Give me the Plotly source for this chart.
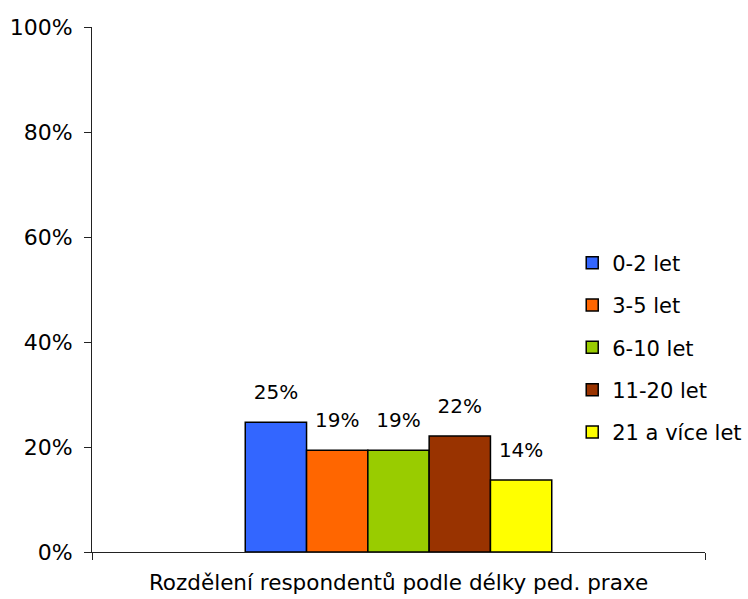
import plotly.graph_objects as go

category = ["Rozdělení respondentů podle délky ped. praxe"]
groups = ["0-2 let", "3-5 let", "6-10 let", "11-20 let", "21 a více let"]
shares = [24.7, 19.4, 19.4, 22.1, 13.7]
colors = ["#3366FF", "#FF6600", "#99CC00", "#993300", "#FFFF00"]
ytick_vals = [0, 20, 40, 60, 80, 100]
ytick_text = ["0%", "20%", "40%", "60%", "80%", "100%"]

FONT = "DejaVu Sans, Liberation Sans, Arial"

fig = go.Figure()
for name, val, col in zip(groups, shares, colors):
    fig.add_trace(go.Bar(
        x=category,
        y=[val],
        name=name,
        legendgroup=name,
        marker=dict(color=col, line=dict(color="#000000", width=1.5)),
        # value label on top, with a small blank line underneath to lift it off the bar
        texttemplate="<span style='font-size:20px'>%{y:.0f}%</span><br> ",
        textposition="outside",
        textfont=dict(family=FONT, size=13, color="#000000"),
        cliponaxis=False,
    ))

fig.update_layout(
    width=748,
    height=599,
    margin=dict(l=92, r=43, t=27, b=47, autoexpand=False),
    paper_bgcolor="white",
    plot_bgcolor="white",
    barmode="group",
    bargap=0.5,
    bargroupgap=0,
    font=dict(family=FONT, size=21, color="#000000"),
    showlegend=True,
    legend=dict(
        xref="container", yref="container",
        x=0.765, y=0.595, xanchor="left", yanchor="top",
        font=dict(family=FONT, size=21),
        tracegroupgap=12,
        bgcolor="rgba(0,0,0,0)",
    ),
    xaxis=dict(
        showline=True, linecolor="#222222", linewidth=1,
        ticks="outside", tickson="boundaries", ticklen=7, tickcolor="#222222",
        showgrid=False,
        tickfont=dict(family=FONT, size=21.5),
        ticklabelstandoff=11,
        automargin=False,
    ),
    yaxis=dict(
        range=[0, 100],
        tickmode="array",
        tickvals=ytick_vals,
        ticktext=ytick_text,
        showline=True, linecolor="#222222", linewidth=1,
        ticks="outside", ticklen=7, tickcolor="#222222",
        showgrid=False, zeroline=False,
        tickfont=dict(family=FONT, size=22),
        ticklabelstandoff=7,
        automargin=False,
    ),
)

fig.write_html("out.html")
